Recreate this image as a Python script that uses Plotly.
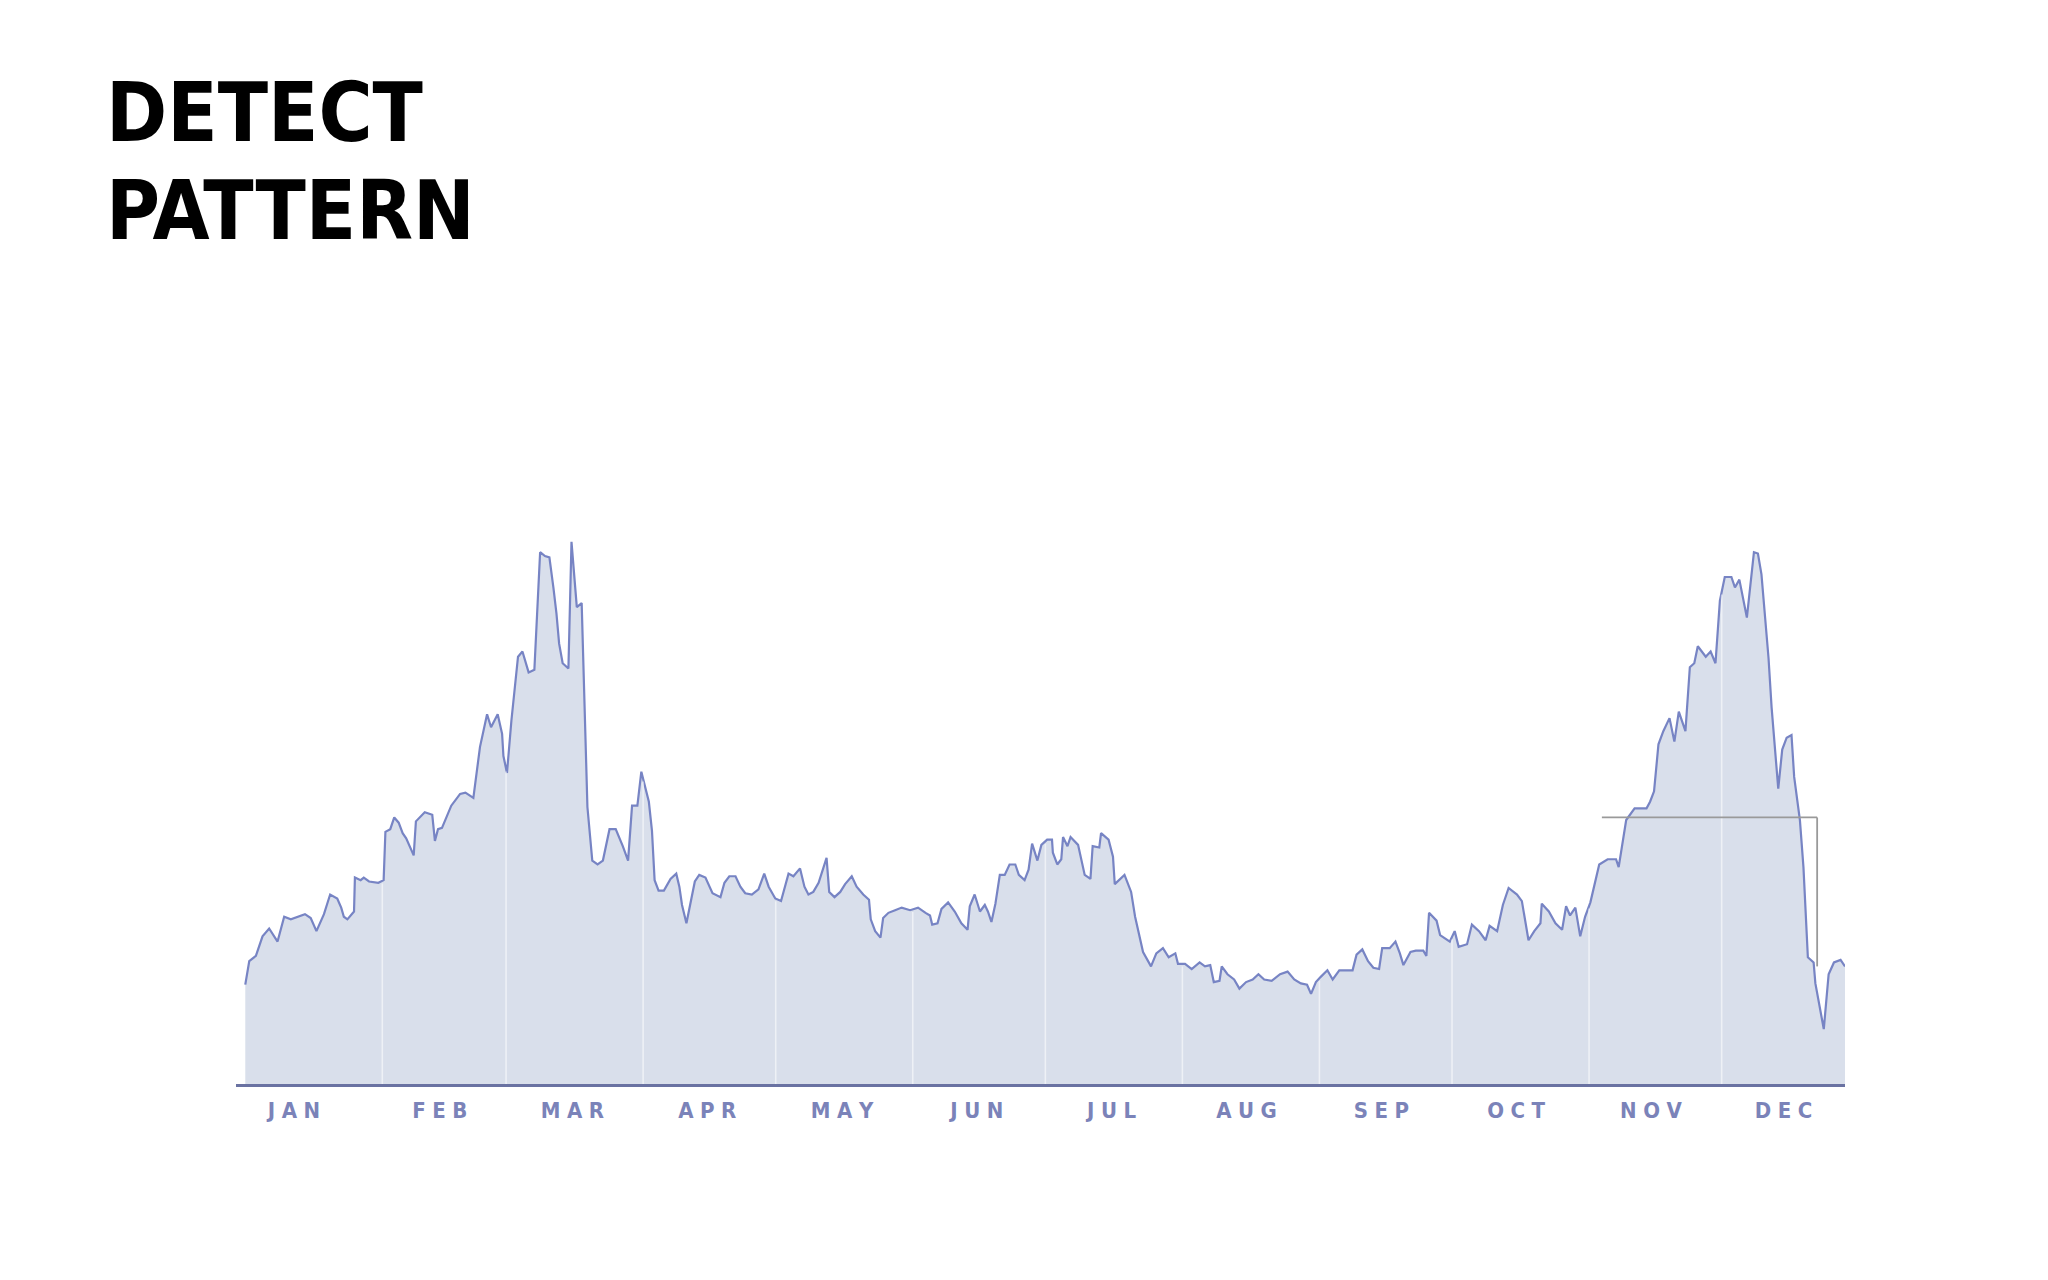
import numpy as np
import plotly.graph_objects as go

# ---------------- data (day of year, index value) ----------------
days = [
    0.0, 0.9, 2.4, 3.9, 5.4, 7.3, 8.8, 10.3, 13.5, 14.8, 16.1, 17.8, 19.2, 20.8, 21.7, 22.3,
    23.1, 24.6, 24.8, 26.1, 26.8, 28.0, 30.1, 31.3, 31.7, 32.8, 33.7, 34.7, 35.6, 36.4, 38.1,
    38.6, 40.6, 42.3, 42.9, 43.6, 44.5, 46.6, 48.6, 49.8, 51.6, 53.1, 54.7, 55.6, 57.1, 58.1,
    58.4, 59.2, 60.2, 61.7, 62.7, 64.1, 65.4, 66.7, 67.8, 68.8, 69.7, 70.4, 71.0, 71.8, 73.1,
    73.8, 75.0, 76.1, 77.4, 78.5, 79.7, 80.9, 82.4, 83.8, 85.4, 86.6, 87.5, 88.7,
    89.6, 91.3, 92.0, 92.6, 93.5, 94.7, 96.2, 97.5, 98.2, 98.8, 99.8, 100.7, 101.7, 102.7,
    104.1, 105.7, 107.5, 108.4, 109.5, 110.9, 112.0, 113.1, 114.6, 116.1, 117.4, 118.4, 119.9,
    121.2, 122.9, 124.0, 125.5, 126.5, 127.4, 128.5, 129.7, 131.5, 132.1, 133.3, 134.6, 135.7,
    137.2, 138.3, 139.8, 141.1, 141.5, 142.5, 143.7, 144.3, 145.5, 147.0, 148.5, 150.4, 152.2,
    153.9, 154.9, 155.4, 156.6, 157.5, 159.0, 160.5, 162.0, 163.4, 163.9, 165.0, 166.2, 167.3,
    168.0, 168.8, 169.7, 170.7, 171.8, 172.9, 174.2, 175.0, 176.3, 177.2, 178.0, 179.2, 180.1,
    181.4, 182.5, 182.7, 183.7, 184.6, 185.0, 186.0, 186.7, 188.4, 189.9, 191.2, 191.7, 193.2,
    193.6, 195.3,
    196.3, 196.7, 198.9, 200.4, 201.3, 203.1, 204.9, 206.1, 207.6, 208.9, 210.4, 211.0, 212.6,
    214.1, 215.9, 217.1, 218.3, 219.1, 220.4, 220.9, 222.2, 223.7, 224.9, 226.4, 227.9, 229.2,
    230.5, 232.2, 234.1, 235.8, 237.3, 238.8, 240.2, 241.1, 242.2, 243.3, 244.8, 246.0, 247.5,
    250.5, 251.4, 252.7, 254.0, 255.2, 256.5, 257.2, 258.9, 260.2, 261.2, 262.0, 263.6, 264.8,
    266.5, 267.2, 267.8, 269.5, 270.3, 272.5, 273.6, 274.5, 276.4, 277.5, 279.1, 280.6, 281.5,
    283.2, 284.5, 285.8, 287.7, 288.8, 290.3, 291.6, 293.0, 293.3, 294.9, 296.4, 297.9, 298.8,
    299.7, 300.9, 302.0, 303.1, 304.3,
    306.3, 308.2, 310.1, 310.7, 312.4, 314.3, 317.0, 317.8, 318.7, 319.7, 320.8, 322.2, 323.3,
    324.3, 325.8, 326.8, 327.8, 328.6, 330.4, 331.5, 332.6, 333.6, 334.7, 336.2, 337.0, 338.0,
    339.7, 341.3, 342.2, 343.0, 344.6, 345.3, 346.8, 347.7, 348.7, 349.8, 350.4, 351.7, 352.5,
    353.5, 354.8, 355.2, 357.1, 358.2, 359.4, 360.9, 361.9,
]

values = [
    76, 94, 98, 113, 119, 109, 128, 126, 130, 127, 117, 130, 145, 142, 135, 128,
    126, 132, 158, 156, 158, 155, 154, 156, 193, 195, 204, 200, 192, 188, 175,
    201, 208, 206, 186, 195, 196, 213, 222, 223, 219, 258, 283, 273, 283, 268,
    251, 238, 278, 327, 331, 315, 317, 407, 404, 403, 380, 360, 337, 322, 318,
    415, 365, 368, 212, 171, 168, 171, 195, 195, 182, 171, 213, 213,
    239, 216, 194, 156, 148, 148, 157, 161, 151, 137, 123, 138, 155, 160,
    158, 146, 143, 154, 159, 159, 151, 146, 145, 149, 161, 151, 142,
    140, 161, 159, 165, 151, 145, 147, 154, 173, 147, 143, 147, 153,
    159, 151, 145, 141, 126, 117, 112, 127, 131, 133, 135, 133, 135,
    131, 129, 122, 123, 134, 139, 132, 123, 118, 136, 145, 132, 137,
    132, 124, 138, 160, 160, 168, 168, 160, 156, 164, 184, 171, 183,
    187, 187, 177, 168, 172, 189, 182, 189, 183, 160, 157, 182, 181,
    192, 187,
    174, 153, 160, 147, 128, 101, 90, 100, 104, 97, 100, 92, 92,
    88, 93, 90, 91, 78, 79, 90, 84, 80, 73, 78, 80, 84,
    80, 79, 84, 86, 80, 77, 76, 69, 78, 82, 87, 80, 87,
    87, 99, 103, 94, 89, 88, 104, 104, 109, 100, 91, 101, 102,
    102, 98, 131, 125, 114, 109, 117, 105, 107, 122, 117, 110, 121,
    117, 137, 150, 145, 140, 110, 117, 123, 138, 132, 123, 118, 136,
    129, 135, 113, 128, 139,
    168, 172, 172, 166, 202, 211, 211, 216, 224, 260, 270, 280, 262,
    285, 270, 319, 322, 335, 327, 331, 322, 370, 388, 388, 380, 386,
    357, 407, 406, 390, 326, 288, 226, 256, 265, 267, 235, 202, 166,
    97, 93, 77, 42, 84, 93, 95, 90,
]

month_labels = ["JAN", "FEB", "MAR", "APR", "MAY", "JUN", "JUL", "AUG", "SEP", "OCT", "NOV", "DEC"]
month_lengths = [31, 28, 31, 30, 31, 30, 31, 31, 30, 31, 30, 31]

# highlighted bracket (start day, end day, top level, bottom level)
bracket_days = [306.9, 355.6]
bracket_levels = [204, 90]

title_lines = ["DETECT", "PATTERN"]

# ---------------- layout constants (page body adds an 8px margin) ----------------
W, H = 2032, 1264
ML, MR, MT, MB = 228, 195, 292, 188
PH = H - MT - MB
PW = W - ML - MR

LINE_COLOR = "#7784c4"
FILL_COLOR = "#d9dfeb"
AXIS_COLOR = "#6a72a2"
LABEL_COLOR = "#7b83b9"
COND = "DejaVu Sans Condensed, Liberation Sans Narrow, Arial Narrow, sans-serif"

month_starts = np.concatenate([[0], np.cumsum(month_lengths)[:-1]])
label_days = [11, 44, 74, 104.5, 135, 165.5, 196, 226.5, 257, 287.5, 318, 348]
sp = "\u2004"
ticktext = [sp.join(list(m)) for m in month_labels]


def py(Y):
    return (H - MB - Y) / PH


def px(X):
    return (X - ML) / PW


fig = go.Figure()
fig.add_trace(go.Scatter(
    x=days, y=values, mode="lines", fill="tozeroy",
    fillcolor=FILL_COLOR, line=dict(color=LINE_COLOR, width=2.2),
    hoverinfo="skip", showlegend=False,
))

shapes = []
# month separators inside the filled area
for s in month_starts[1:]:
    top = float(np.interp(s, days, values)) - 2
    shapes.append(dict(type="line", xref="x", yref="y", x0=s, x1=s, y0=0, y1=top,
                       line=dict(color="rgba(255,255,255,0.55)", width=1.6), layer="above"))
# bracket
shapes.append(dict(type="line", xref="x", yref="y", x0=bracket_days[0], x1=bracket_days[1],
                   y0=bracket_levels[0], y1=bracket_levels[0],
                   line=dict(color="#9a9a9a", width=1.8), layer="above"))
shapes.append(dict(type="line", xref="x", yref="y", x0=bracket_days[1], x1=bracket_days[1],
                   y0=bracket_levels[0], y1=bracket_levels[1],
                   line=dict(color="#9a9a9a", width=1.8), layer="above"))

annotations = []
TITLE_SIZE = 82
title_tops = [55.6, 153.8]
for txt, top in zip(title_lines, title_tops):
    annotations.append(dict(
        text=f"<b>{txt}</b>", xref="paper", yref="paper", x=px(97), y=py(top),
        xanchor="left", yanchor="top", showarrow=False, borderpad=0,
        font=dict(family=COND, size=TITLE_SIZE, color="#000000"),
    ))

fig.update_layout(
    width=W, height=H,
    margin=dict(l=ML, r=MR, t=MT, b=MB, pad=0),
    paper_bgcolor="white", plot_bgcolor="white",
    shapes=shapes, annotations=annotations,
    xaxis=dict(
        range=[-2.1, days[-1]], showgrid=False, zeroline=False,
        showline=True, linecolor=AXIS_COLOR, linewidth=2.5,
        tickmode="array", tickvals=label_days, ticktext=ticktext, ticks="",
        ticklabelstandoff=5,
        tickfont=dict(family=COND, size=22, color=LABEL_COLOR, weight="bold"),
        fixedrange=True,
    ),
    yaxis=dict(range=[0, 600], visible=False, fixedrange=True),
)

fig.write_html("out.html")
